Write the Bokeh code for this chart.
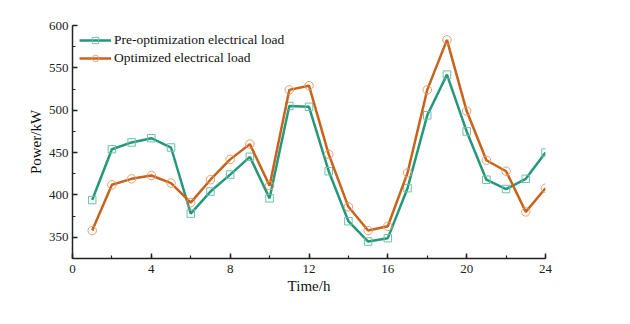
from bokeh.plotting import figure
from bokeh.models import Range1d, FixedTicker, Legend, LegendItem
from bokeh.embed import file_html
from bokeh.resources import INLINE

hours = list(range(1, 25))
pre_opt = [394, 454, 462, 467, 456, 378, 404, 424, 445, 396, 505, 504,
           428, 369, 345, 349, 408, 494, 542, 475, 418, 407, 419, 450]
optimized = [358, 412, 419, 423, 414, 391, 418, 442, 460, 411, 524, 529,
             448, 386, 358, 363, 426, 524, 583, 499, 441, 428, 380, 408]
x_ticks = [0, 4, 8, 12, 16, 20, 24]
y_ticks = [350, 400, 450, 500, 550, 600]

GREEN = "#26977b"
ORANGE = "#c9621b"
FONT = "Liberation Serif"

p = figure(width=614, height=308, output_backend="svg", toolbar_location=None,
           x_range=Range1d(0, 24), y_range=Range1d(325, 600),
           min_border_left=72, min_border_right=69, min_border_top=25,
           min_border_bottom=50)
p.outline_line_color = None
p.grid.visible = False
p.background_fill_color = "white"

for ax in (p.xaxis[0], p.yaxis[0]):
    ax.axis_line_width = 1.5
    ax.axis_line_color = "#222222"
    ax.major_tick_in = 5
    ax.major_tick_out = 0
    ax.minor_tick_in = 3
    ax.minor_tick_out = 0
    ax.major_tick_line_width = 1.5
    ax.minor_tick_line_width = 1.2
    ax.major_tick_line_color = "#222222"
    ax.minor_tick_line_color = "#222222"
    ax.major_label_text_font = FONT
    ax.major_label_text_font_size = "13px"
    ax.major_label_text_color = "#222222"
    ax.axis_label_text_font = FONT
    ax.axis_label_text_font_size = "15px"
    ax.axis_label_text_font_style = "normal"
    ax.axis_label_text_color = "#111111"

p.xaxis.ticker = FixedTicker(ticks=x_ticks, minor_ticks=list(range(0, 25, 2)))
p.yaxis.ticker = FixedTicker(ticks=y_ticks, minor_ticks=list(range(325, 601, 25)))
p.xaxis.axis_label = "Time/h"
p.yaxis.axis_label = "Power/kW"
p.xaxis.major_label_standoff = 6
p.yaxis.major_label_standoff = 4
p.xaxis.axis_label_standoff = 2
p.yaxis.axis_label_standoff = 2

l1 = p.line(hours, pre_opt, line_color=GREEN, line_width=2.5)
s1 = p.scatter(hours, pre_opt, marker="square", size=7.5, fill_color=None,
               line_color="#6cc1a8", line_width=1)
l2 = p.line(hours, optimized, line_color=ORANGE, line_width=2.5)
s2 = p.scatter(hours, optimized, marker="circle", size=8.5, fill_color=None,
               line_color="#e0a070", line_width=1)

legend = Legend(items=[
    LegendItem(label="Pre-optimization electrical load", renderers=[l1, s1]),
    LegendItem(label="Optimized electrical load", renderers=[l2, s2]),
], location="top_left")
legend.border_line_color = None
legend.background_fill_alpha = 0
legend.label_text_font = FONT
legend.label_text_font_size = "13.5px"
legend.label_text_color = "#111111"
legend.glyph_width = 32
legend.glyph_height = 16
legend.label_height = 16
legend.spacing = 2
legend.padding = 2
legend.margin = 7
legend.label_standoff = 3
p.add_layout(legend)

open("out.html", "w").write(file_html(p, INLINE))
